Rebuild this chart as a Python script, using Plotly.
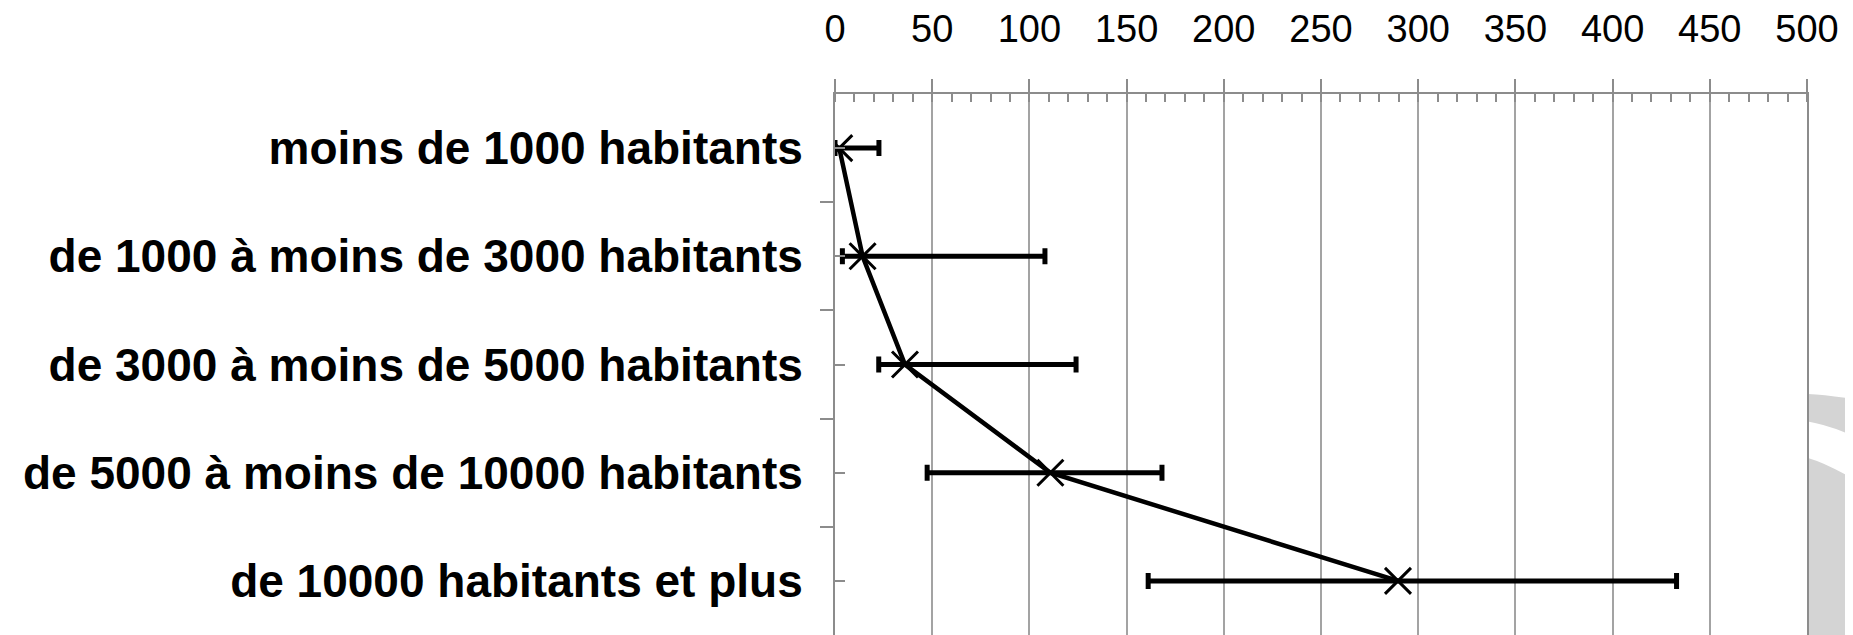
import plotly.graph_objects as go

# categories (top to bottom) and values
categories = [
    "moins de 1000 habitants",
    "de 1000 à moins de 3000 habitants",
    "de 3000 à moins de 5000 habitants",
    "de 5000 à moins de 10000 habitants",
    "de 10000 habitants et plus",
]
values = [2.2, 14.2, 36.0, 110.8, 289.6]
lower = [0.0, 3.8, 22.5, 47.4, 161.1]
upper = [22.6, 108.0, 124.0, 168.2, 432.9]

x_ticks = list(range(0, 501, 50))

# the page body keeps its default 8px margin, so the figure is drawn
# 8px smaller and everything is laid out relative to that offset
OFF = 8
W, H = 1853 - OFF, 635 - OFF
L, R, T, B = 835 - OFF, 46, 85 - OFF, 0
GRID = "#a3a3a3"
AXIS = "#8c8c8c"
FONT = "Liberation Sans, Arial, sans-serif"


def to_paper(px, py):
    # page pixel -> paper coordinates (decorative background arcs only)
    px, py = px - OFF, py - OFF
    return (px - L) / (W - L - R), (H - B - py) / (H - T - B)


def path(points):
    # one command per point list; L segments take a single point each
    out = []
    for cmd, pts in points:
        coords = " ".join("%.4f,%.4f" % to_paper(*p) for p in pts)
        out.append(cmd + coords)
    return " ".join(out) + " Z"


err_plus = [u - v for u, v in zip(upper, values)]
err_minus = [v - lo for v, lo in zip(values, lower)]
ypos = list(range(len(categories)))

fig = go.Figure()
fig.add_trace(go.Scatter(
    x=values,
    y=ypos,
    mode="lines+markers",
    line=dict(color="black", width=4.5),
    marker=dict(symbol="x-thin", size=26, line=dict(color="black", width=3)),
    error_x=dict(
        type="data",
        symmetric=False,
        array=err_plus,
        arrayminus=err_minus,
        color="black",
        thickness=5,
        width=8,
    ),
    showlegend=False,
))

# grey arcs of the background logo, right of the plot
band = path([
    ("M", [(1808, 390)]),
    ("Q", [(1832, 391), (1870, 398)]),
    ("L", [(1870, 440)]),
    ("Q", [(1832, 422), (1808, 418)]),
])
blob = path([
    ("M", [(1808, 455)]),
    ("Q", [(1832, 462), (1870, 487)]),
    ("L", [(1870, 640)]),
    ("L", [(1808, 640)]),
])

fig.update_layout(
    width=W,
    height=H,
    margin=dict(l=L, r=R, t=T, b=B, pad=0),
    paper_bgcolor="white",
    plot_bgcolor="white",
    font=dict(family=FONT, color="black"),
    shapes=[
        dict(type="path", xref="paper", yref="paper", path=band,
             fillcolor="#d4d4d4", line=dict(width=0), layer="below"),
        dict(type="path", xref="paper", yref="paper", path=blob,
             fillcolor="#d4d4d4", line=dict(width=0), layer="below"),
    ],
)

fig.update_xaxes(
    side="top",
    range=[0, 500],
    tickvals=x_ticks,
    showgrid=True,
    gridcolor=GRID,
    gridwidth=2,
    zeroline=False,
    showline=True,
    linecolor=AXIS,
    linewidth=2,
    ticks="outside",
    ticklen=13,
    tickwidth=2,
    tickcolor=AXIS,
    ticklabelstandoff=22,
    tickfont=dict(family=FONT, size=38, color="black"),
    minor=dict(dtick=10, tick0=0, ticks="inside", ticklen=8,
               tickwidth=1.5, tickcolor=AXIS, showgrid=False),
)

fig.update_yaxes(
    range=[len(categories) - 0.5, -0.5],
    tickvals=ypos,
    ticktext=categories,
    showgrid=False,
    zeroline=False,
    showline=True,
    mirror=True,
    linecolor=AXIS,
    linewidth=2,
    ticks="inside",
    ticklen=10,
    tickwidth=2,
    tickcolor=AXIS,
    ticklabelstandoff=21,
    tickfont=dict(family=FONT, size=46, weight="bold", color="black"),
    minor=dict(tick0=0.5, dtick=1, ticks="outside", ticklen=13,
               tickwidth=2, tickcolor=AXIS, showgrid=False),
)

fig.write_html("out.html")
